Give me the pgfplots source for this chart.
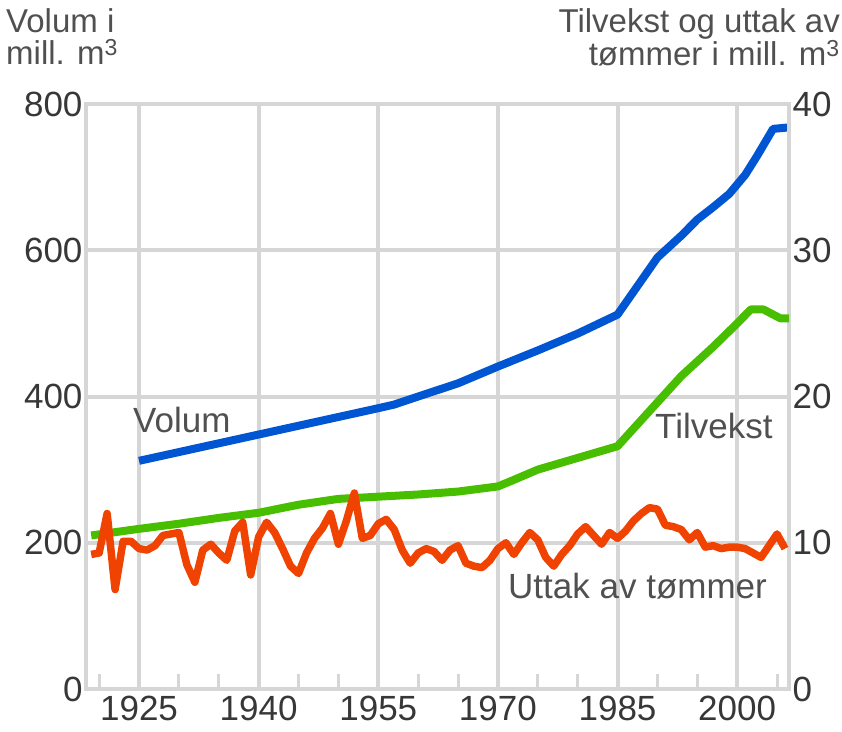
\documentclass[border=0pt]{standalone}
\usepackage{fontspec}
\setmainfont{Liberation Sans}
\usepackage{pgfplots}
\pgfplotsset{compat=1.18}
\definecolor{gridc}{RGB}{214,214,214}
\definecolor{blu}{RGB}{0,85,210}
\definecolor{grn}{RGB}{72,190,0}
\definecolor{org}{RGB}{240,66,0}
\definecolor{txt}{RGB}{55,55,55}
\definecolor{lab}{RGB}{80,80,80}

\pgfplotstableread{
year vol
1925 312
1930 324
1935 336
1940 348
1945 360
1950 372
1955 384
1957 389
1960 400
1965 418
1970 441
1975 463
1980 486
1985 512
1987.5 551
1990 590
1993 620
1995 642
1997 659
1999 677
2001 703
2002.5 729
2004.5 766
2006.5 768
}\volum

\pgfplotstableread{
year tv
1919 10.5
1925 10.95
1930 11.3
1935 11.7
1940 12.05
1945 12.6
1950 13.0
1955 13.15
1960 13.3
1965 13.5
1970 13.85
1972 14.3
1975 15.0
1980 15.8
1985 16.6
1990 19.6
1993 21.4
1997 23.4
2000 25.0
2001.7 25.95
2003.3 25.95
2005.4 25.35
2006.5 25.35
}\tilvekst

\pgfplotstableread{
year ut
1919 9.2
1920 9.3
1921 12.0
1922 6.8
1923 10.1
1924 10.1
1925 9.6
1926 9.5
1927 9.8
1928 10.5
1929 10.6
1930 10.7
1931 8.5
1932 7.3
1933 9.5
1934 9.9
1935 9.3
1936 8.8
1937 10.8
1938 11.4
1939 7.8
1940 10.4
1941 11.4
1942 10.7
1943 9.6
1944 8.4
1945 7.9
1946 9.3
1947 10.3
1948 11.0
1949 12.0
1950 9.9
1951 11.5
1952 13.4
1953 10.3
1954 10.5
1955 11.3
1956 11.6
1957 10.9
1958 9.5
1959 8.6
1960 9.3
1961 9.6
1962 9.4
1963 8.8
1964 9.5
1965 9.8
1966 8.6
1967 8.4
1968 8.3
1969 8.8
1970 9.6
1971 10.0
1972 9.2
1973 10.0
1974 10.7
1975 10.2
1976 9.0
1977 8.4
1978 9.2
1979 9.8
1980 10.6
1981 11.1
1982 10.5
1983 9.9
1984 10.7
1985 10.3
1986 10.8
1987 11.5
1988 12.0
1989 12.4
1990 12.3
1991 11.2
1992 11.1
1993 10.9
1994 10.2
1995 10.7
1996 9.7
1997 9.8
1998 9.6
1999 9.7
2000 9.7
2001 9.6
2002 9.3
2003 9.0
2004 9.8
2005 10.6
2006 9.6
}\uttak

\begin{document}
\begin{tikzpicture}
\pgfplotsset{
  common/.style={
    scale only axis, width=703pt, height=585pt,
    xmin=1918.35, xmax=2006.5,
    /pgf/number format/assume math mode=true,
    /pgf/number format/1000 sep={},
    axis line style={gridc, line width=4pt},
    every tick/.style={gridc, line width=3pt},
    ticklabel style={font=\fontsize{35}{35}\selectfont, text=txt},
  }
}
\begin{axis}[common,
  ymin=0, ymax=800, ytick={0,200,400,600,800},
  xtick={1925,1940,1955,1970,1985,2000},
  minor xtick={1920,1930,1935,1945,1950,1960,1965,1975,1980,1990,1995,2005},
  xtick pos=bottom, ytick pos=left,
  tick align=inside,
  major tick length=0pt, minor tick length=15pt,
  xmajorgrids, ymajorgrids,
  major grid style={gridc, line width=4pt},
  xticklabel style={yshift=-4pt},
  clip=true,
]
\addplot[blu, line width=8pt, line join=round] table[x=year, y=vol] {\volum};
\end{axis}
\begin{axis}[common,
  ymin=0, ymax=40, ytick={0,10,20,30,40},
  axis x line=none, axis y line*=right,
  major tick length=0pt,
]
\addplot[grn, line width=8pt, line join=round] table[x=year, y=tv] {\tilvekst};
\addplot[org, line width=7.5pt, line join=round] table[x=year, y=ut] {\uttak};
\end{axis}

\node[anchor=base west, inner sep=0pt, text=lab, font=\fontsize{35}{35}\selectfont] at (47pt,256pt) {Volum};
\node[anchor=base west, inner sep=0pt, text=lab, font=\fontsize{35}{35}\selectfont] at (569pt,251pt) {Tilvekst};
\node[anchor=base west, inner sep=0pt, text=lab, font=\fontsize{35}{35}\selectfont] at (422pt,91pt) {Uttak av tømmer};

\node[anchor=north west, inner sep=0pt, align=left, text=lab, font=\fontsize{33}{32}\selectfont] at (-80pt,681pt) {Volum i\\mill. m\textsuperscript{3}};
\node[anchor=north east, inner sep=0pt, align=right, text=lab, font=\fontsize{33}{32}\selectfont] at (754pt,681pt) {Tilvekst og uttak av\\tømmer i mill. m\textsuperscript{3}};

\pgfresetboundingbox
\path (-86pt,-42pt) rectangle (756pt,689pt);
\end{tikzpicture}
\end{document}
